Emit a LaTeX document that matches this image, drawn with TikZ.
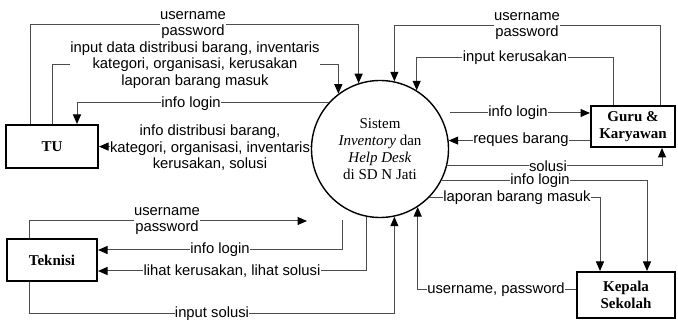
\documentclass[tikz,border=0pt]{standalone}
\usepackage{fontspec}
\setmainfont{Liberation Serif}
\setsansfont{Liberation Sans}
\usetikzlibrary{arrows.meta}
\tikzset{
  ent/.style={draw, line width=2pt, fill=white, font=\bfseries\fontsize{15}{17}\selectfont, align=center, inner sep=0pt},
  flow/.style={draw=black!70, line width=1pt},
  arr/.style={flow, -{Triangle[length=9.5pt,width=8pt,color=black]}},
  lbl/.style={fill=white, inner sep=0.3pt, align=center, font=\sffamily\fontsize{14.8}{16.5}\selectfont},
}
\begin{document}
\begin{tikzpicture}[x=1pt,y=-1pt]
\useasboundingbox (0,0) rectangle (678,320);
% process
\node[circle, draw, line width=1.4pt, minimum size=137pt, inner sep=0pt, align=center,
      font=\fontsize{15}{17}\selectfont] (sys) at (380,149)
  {Sistem\\\textit{Inventory} dan\\\textit{Help Desk}\\di SD N Jati};
% entities
\node[ent, minimum width=92pt, minimum height=43pt] (tu) at (52,146.5) {TU};
\node[ent, minimum width=90pt, minimum height=42pt] (tek) at (52,260) {Teknisi};
\node[ent, minimum width=84pt, minimum height=41pt] (guru) at (633,126.5) {Guru \&\\Karyawan};
\node[ent, minimum width=98pt, minimum height=46pt] (kep) at (626,295) {Kepala\\Sekolah};
% helper coordinates
\coordinate (c1) at (30,25);
\coordinate (c2) at (52,65);
\coordinate (tuA) at (77,0);
\coordinate (t1) at (29,221);
\coordinate (tend) at (307,221);
\coordinate (t1b) at (29,314);
\coordinate (tk1) at (342,220);
\coordinate (tk2) at (0,250);
\coordinate (tk3) at (0,271);
\coordinate (g1) at (660,26);
\coordinate (g2) at (613,58);
\coordinate (gl1) at (450,113);
\coordinate (gs) at (662,0);
\coordinate (k1) at (600,0);
\coordinate (k2) at (647,0);
\coordinate (kp) at (0,290);
% TU flows
\draw[arr] (tu.north -| c1) -- (c1) -| (sys.108.7);
\draw[arr] (tu.north -| c2) -- (c2) -| (sys.127.8);
\draw[arr] (sys.138.9) -| (tu.north -| tuA);
\draw[arr] (sys.178) -- (sys.178 -| tu.east);
% Teknisi flows
\draw[arr] (tek.north -| t1) -- (t1) -- (tend);
\draw[arr] (tk1) |- (tek.east |- tk2);
\draw[arr] (sys.259.1) |- (tek.east |- tk3);
\draw[arr] (tek.south -| t1) -- (t1b) -| (sys.282.6);
% Guru flows
\draw[arr] (guru.north -| g1) -- (g1) -| (sys.78.2);
\draw[arr] (guru.north -| g2) -- (g2) -| (sys.58.3);
\draw[arr] (gl1) -- (gl1 -| guru.west);
\draw[arr] (sys.7.5 -| guru.west) -- (sys.7.5);
\draw[arr] (sys.-14.4) -| (guru.south -| gs);
% Kepala flows
\draw[arr] (sys.-27.8) -| (kep.north -| k2);
\draw[arr] (sys.-45.7) -| (kep.north -| k1);
\draw[arr] (kep.west |- kp) -| (sys.-57.3);
% labels
\node[lbl] (l1) at (193,25) {username\\password};
\node[lbl] (l2) at (195,65) {input data distribusi barang, inventaris\\kategori, organisasi, kerusakan\\laporan barang masuk};
\node[lbl] (l3) at (191,104) {info login};
\node[lbl] (l4) at (210,148) {info distribusi barang,\\kategori, organisasi, inventaris\\kerusakan, solusi};
\node[lbl] (l5) at (167,221) {username\\password};
\node[lbl] (l6) at (220,250) {info login};
\node[lbl] (l7) at (232,271) {lihat kerusakan, lihat solusi};
\node[lbl] (l8) at (212,314) {input solusi};
\node[lbl] (l9) at (527,26) {username\\password};
\node[lbl] (l10) at (515,58) {input kerusakan};
\node[lbl] (l11) at (518,113) {info login};
\node[lbl] (l12) at (521,140) {reques barang};
\node[lbl] (l13) at (548,166) {solusi};
\node[lbl] (l14) at (540,181) {info login};
\node[lbl] (l15) at (517,198) {laporan barang masuk};
\node[lbl] (l16) at (496,290) {username, password};
\end{tikzpicture}
\end{document}
